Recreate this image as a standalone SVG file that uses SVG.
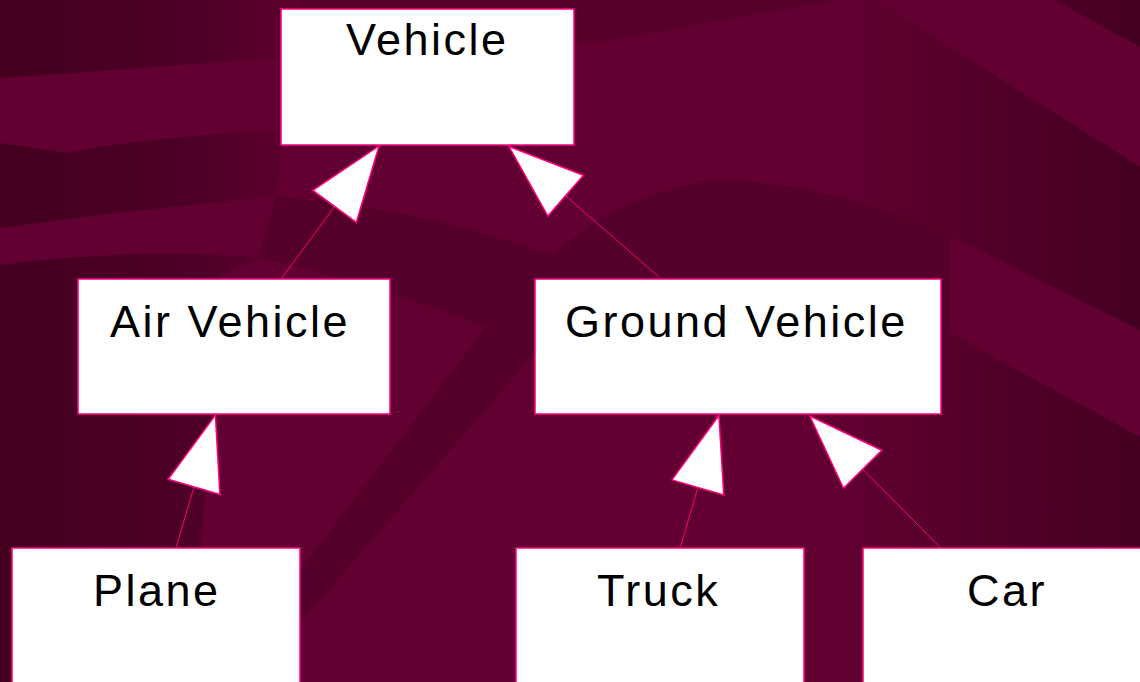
<svg xmlns="http://www.w3.org/2000/svg" width="1140" height="682" viewBox="0 0 1140 682">
<style>
.box{fill:#ffffff;stroke:#ff0080;stroke-width:1.5}
.lbl{font-family:"Liberation Sans",Arial,sans-serif;font-size:45px;letter-spacing:2.5px;fill:#000}
.conn{stroke:#ff0080;stroke-width:1;fill:none;marker-end:url(#tri)}
.lt{fill:#610031}
.dk{fill:#55002a}
</style>
<defs>
<linearGradient id="bg" x1="0" y1="0" x2="1" y2="0">
<stop offset="0" stop-color="#42001e"/>
<stop offset="0.17" stop-color="#4e0026"/>
<stop offset="0.28" stop-color="#620032"/>
<stop offset="0.72" stop-color="#620032"/>
<stop offset="0.85" stop-color="#55002a"/>
<stop offset="1" stop-color="#44001f"/>
</linearGradient>
<marker id="tri" markerUnits="userSpaceOnUse" viewBox="-2 -30 79 60" refX="75" refY="0" markerWidth="79" markerHeight="60" orient="auto">
<path d="M0,-27 L75,0 L0,27 Z" fill="#ffffff" stroke="#ff0080" stroke-width="1.5"/>
</marker>
</defs>
<g id="background">
<rect x="0" y="0" width="1140" height="682" fill="url(#bg)"/>
<path class="lt" d="M0,78 C120,70 220,62 300,56 C400,50 500,46 600,42 L600,140 L285,130 C200,134 120,142 68,153 L0,143 Z"/>
<path class="lt" d="M285,130 L600,130 L600,218 L580,233 L552,255 C470,226 380,204 276,197 Z"/>
<path class="lt" d="M0,228 C100,214 200,203 276,197 L259,258 C180,250 90,254 0,265 Z"/>
<path class="lt" d="M215,279 L259,258 C340,275 420,303 486,327 L540,327 L540,682 L195,682 C196,610 200,520 215,415 Z"/>
<path class="lt" d="M880,0 L1055,0 L1140,47 L1140,167 L903,17 Z"/>
<path class="lt" d="M950,236 L1140,330 L1140,437 L950,333 Z"/>
<path fill="#57002b" d="M300,0 L840,0 L600,42 C500,46 400,50 300,56 Z"/>
<path class="dk" d="M276,197 C380,204 470,226 552,255 L580,233 L600,218 C640,198 680,182 720,180 C800,182 880,205 945,233 L945,300 L535,300 L535,353 L300,623 L300,570 L486,327 C420,303 340,275 259,258 Z"/>
</g>
<g id="connectors">
<line class="conn" x1="281.7" y1="278.3" x2="379" y2="146"/>
<line class="conn" x1="659.3" y1="277.3" x2="509" y2="146.5"/>
<line class="conn" x1="176" y1="547.7" x2="215.4" y2="415"/>
<line class="conn" x1="680.1" y1="548.3" x2="718.9" y2="415.5"/>
<line class="conn" x1="941.1" y1="548.3" x2="809.8" y2="416"/>
</g>
<g id="vehicle">
<rect class="box" x="281" y="9" width="293" height="136"/>
<text class="lbl" x="346" y="54.5">Vehicle</text>
</g>
<g id="air-vehicle">
<rect class="box" x="78" y="279" width="312" height="135"/>
<text class="lbl" x="110" y="336.5">Air Vehicle</text>
</g>
<g id="ground-vehicle">
<rect class="box" x="535" y="279" width="406" height="135"/>
<text class="lbl" x="565" y="336.5">Ground Vehicle</text>
</g>
<g id="plane">
<rect class="box" x="12" y="548" width="288" height="150"/>
<text class="lbl" x="93" y="605.5">Plane</text>
</g>
<g id="truck">
<rect class="box" x="516" y="548" width="288" height="150"/>
<text class="lbl" x="597" y="605.5">Truck</text>
</g>
<g id="car">
<rect class="box" x="863" y="548" width="288" height="150"/>
<text class="lbl" x="967" y="605.5">Car</text>
</g>
</svg>
